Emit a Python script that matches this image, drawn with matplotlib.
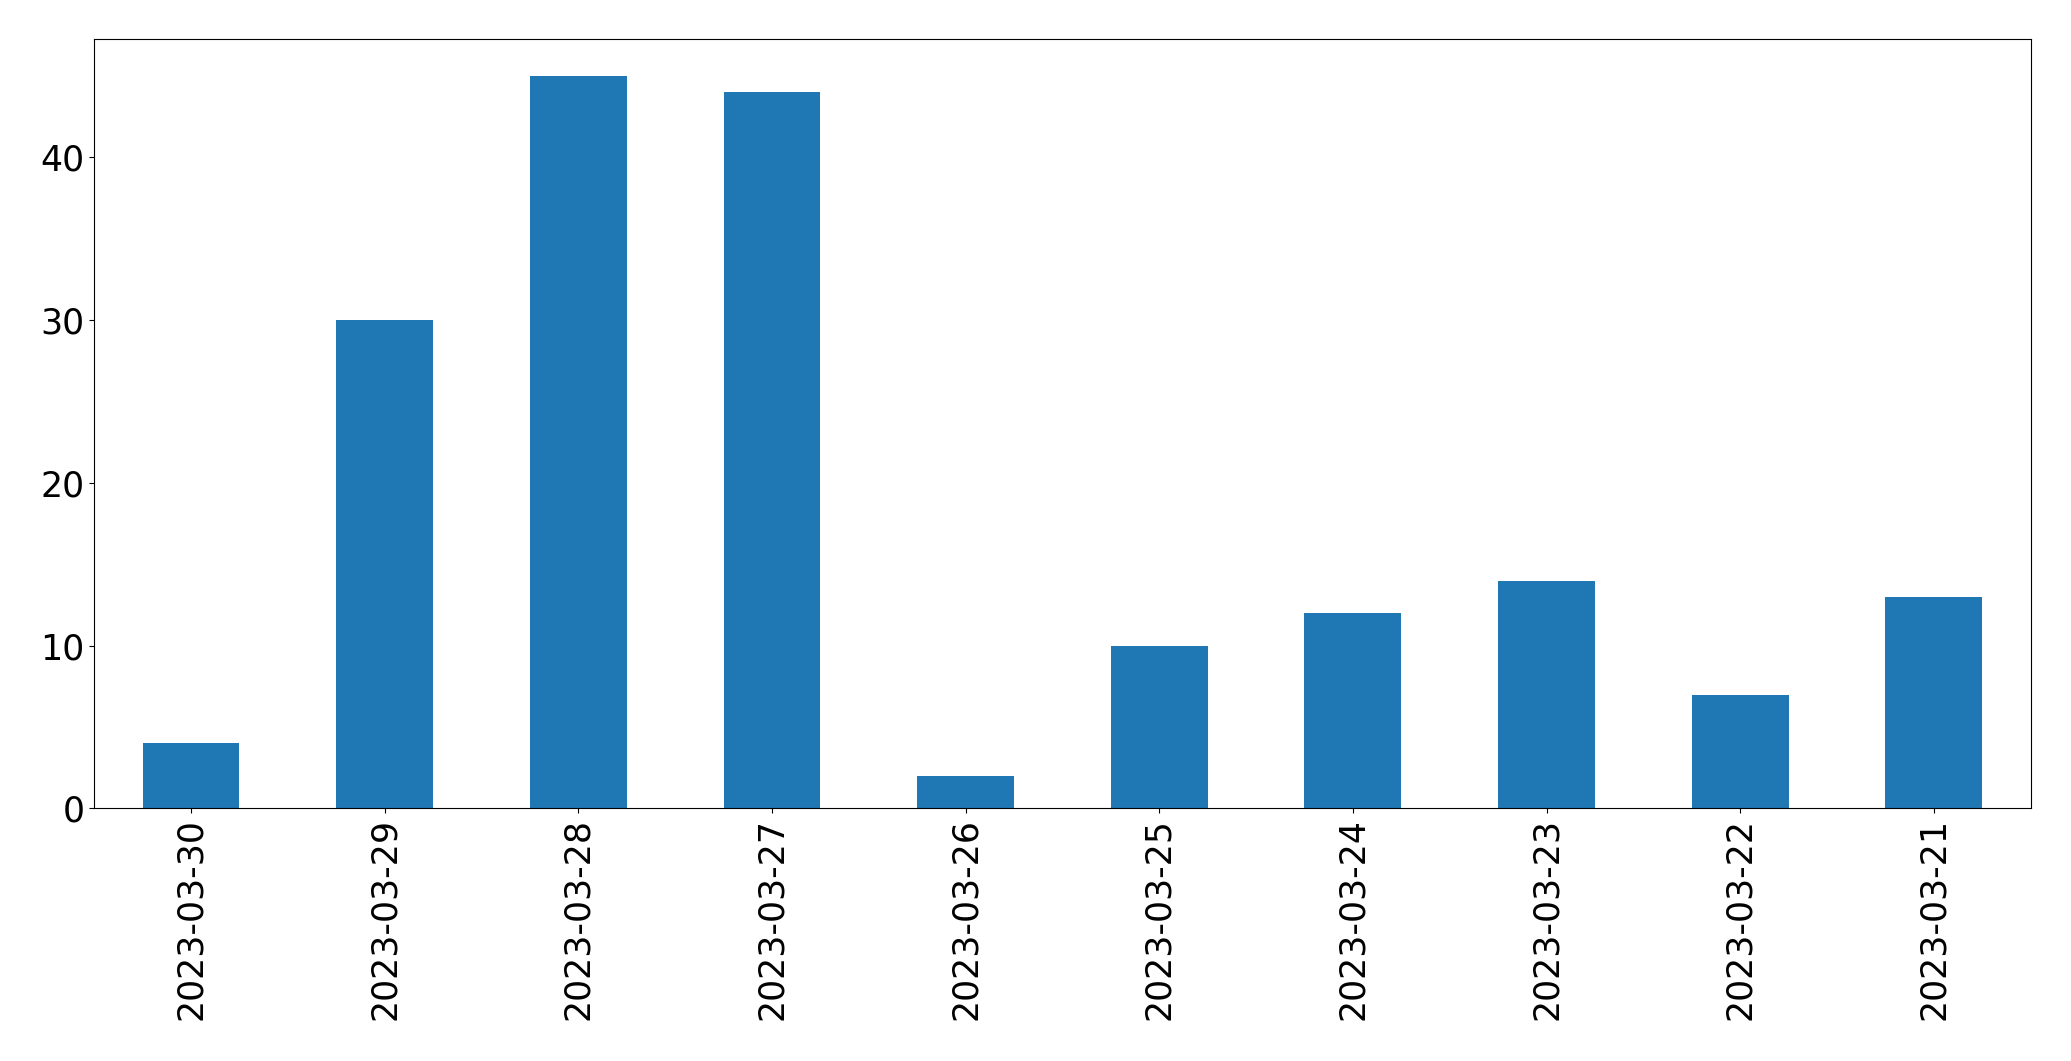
import matplotlib
matplotlib.use("Agg")
import matplotlib.pyplot as plt
import numpy as np

dates = ["2023-03-30", "2023-03-29", "2023-03-28", "2023-03-27", "2023-03-26",
         "2023-03-25", "2023-03-24", "2023-03-23", "2023-03-22", "2023-03-21"]
counts = [4, 30, 45, 44, 2, 10, 12, 14, 7, 13]

fig, ax = plt.subplots(figsize=(20.71, 10.61), dpi=100)
x = np.arange(len(dates))
ax.bar(x, counts, width=0.5, color="#1f77b4")
ax.set_xticks(x)
ax.set_xticklabels(dates, rotation=90)
ax.set_xlim(-0.5, len(dates) - 0.5)
ax.tick_params(labelsize=25)
fig.subplots_adjust(left=0.0455, right=0.9805, top=0.963, bottom=0.238)
plt.savefig("out.png")
